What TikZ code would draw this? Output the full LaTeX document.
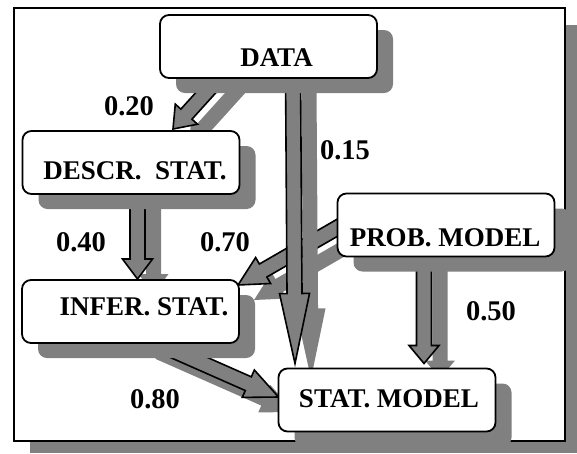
\documentclass[tikz,border=0pt]{standalone}
\usepackage{fontspec}
\setmainfont{Liberation Serif}
\usetikzlibrary{calc,shadows}
\definecolor{shadegray}{RGB}{128,128,128}
\pgfdeclarelayer{frame}
\pgfdeclarelayer{flows}
\pgfsetlayers{frame,flows,main}
\tikzset{
  castshadow/.style={drop shadow={shadow xshift=16pt, shadow yshift=-15pt, fill=shadegray, opacity=1}},
  statbox/.style={draw, line width=1.8pt, fill=white, rounded corners=9pt, outer sep=0pt,
    minimum width=217pt, minimum height=63pt, inner sep=0pt, castshadow},
  boxtext/.style={font=\fontsize{27}{31}\selectfont\bfseries, inner sep=0pt},
  weight/.style={font=\fontsize{28.5}{33}\selectfont\bfseries, inner sep=0pt},
  flow/.style={draw, line width=1.6pt, fill=shadegray, line join=miter, castshadow}
}
% block arrow: from, to, head length
\newcommand{\flowarrow}[3]{%
  \coordinate (hb) at ($(#2)!#3!(#1)$);
  \filldraw[flow] ($(#1)!7.5pt!90:(#2)$) -- ($(hb)!7.5pt!90:(#2)$)
    -- ($(hb)!15pt!90:(#2)$) -- (#2) -- ($(hb)!15pt!-90:(#2)$)
    -- ($(hb)!7.5pt!-90:(#2)$) -- ($(#1)!7.5pt!-90:(#2)$) -- cycle;
}
\begin{document}
\begin{tikzpicture}[x=1pt, y=-1pt]
  \useasboundingbox (0,0) rectangle (577,453);
  % Frame
  \begin{pgfonlayer}{frame}
    \fill[shadegray] (30,25) rectangle (577,453);
    \draw[line width=2.2pt, fill=white] (14,8) rectangle (565,441);
  \end{pgfonlayer}
  % Boxes
  \node (data) at (268.5,46.5) [statbox, label={[boxtext, xshift=8pt, yshift=-11pt]center:DATA}] {};
  \node (descr) at (131,162.5) [statbox, label={[boxtext, xshift=4pt, yshift=-8pt]center:DESCR.\ \ STAT.}] {};
  \node (infer) at (130.5,311.5) [statbox, label={[boxtext, xshift=13.5pt, yshift=4.5pt]center:INFER. STAT.}] {};
  \node (prob) at (446,225) [statbox, label={[boxtext, xshift=-1pt, yshift=-13pt]center:PROB. MODEL}] {};
  \node (stat) at (387,400) [statbox, label={[boxtext, xshift=2pt, yshift=1.5pt]center:STAT. MODEL}] {};
  % Arrow ends
  \coordinate (data-o1) at ([xshift=-44pt, yshift=6pt]data.south);
  \coordinate (data-o2) at ([xshift=24.5pt, yshift=6pt]data.south);
  \coordinate (descr-i) at ([xshift=42pt, yshift=2pt]descr.north);
  \coordinate (descr-o) at ([xshift=6.5pt, yshift=6pt]descr.south);
  \coordinate (infer-i1) at ([xshift=7pt, yshift=1pt]infer.north);
  \coordinate (infer-i2) at ([xshift=-1pt, yshift=-5pt]infer.north east);
  \coordinate (infer-o) at ([xshift=12pt, yshift=6pt]infer.south);
  \coordinate (prob-o1) at ([xshift=8pt, yshift=2pt]prob.west);
  \coordinate (prob-o2) at ([xshift=-22pt, yshift=6pt]prob.south);
  \coordinate (stat-i1) at ([xshift=-92pt, yshift=5pt]stat.north);
  \coordinate (stat-i2) at ([xshift=37pt, yshift=5pt]stat.north);
  \coordinate (stat-i3) at ([yshift=3pt]stat.west);
  % Arrows
  \begin{pgfonlayer}{flows}
    \flowarrow{data-o1}{descr-i}{20pt}
    \flowarrow{prob-o1}{infer-i2}{29pt}
    \flowarrow{data-o2}{stat-i1}{70pt}
    \flowarrow{descr-o}{infer-i1}{20pt}
    \flowarrow{prob-o2}{stat-i2}{18pt}
    \flowarrow{infer-o}{stat-i3}{33pt}
  \end{pgfonlayer}
  % Weights
  \node (w20) at (129,106) [weight] {0.20};
  \node (w15) at (345,150) [weight] {0.15};
  \node (w40) at (81,242) [weight] {0.40};
  \node (w70) at (225,242) [weight] {0.70};
  \node (w80) at (155,399) [weight] {0.80};
  \node (w50) at (491,311) [weight] {0.50};
\end{tikzpicture}
\end{document}
